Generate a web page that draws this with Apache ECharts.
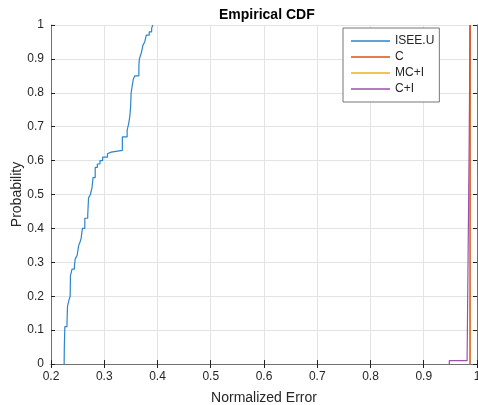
<!DOCTYPE html>
<html>
<head>
<meta charset="utf-8">
<script src="https://cdn.jsdelivr.net/npm/echarts@6/dist/echarts.min.js"></script>
<style>
  html, body { margin: 0; padding: 0; background: #fff; }
  #main { width: 478px; height: 405px; }
</style>
</head>
<body>
<div id="main"></div>
<script>
// ecdf steps: [x, F(x)]
var iseeU = [
  [0.2247, 0], [0.2250, 0.05], [0.2260, 0.11], [0.2300, 0.12], [0.2310, 0.17],
  [0.2340, 0.19], [0.2360, 0.20], [0.2365, 0.26], [0.2395, 0.28], [0.2440, 0.29],
  [0.2455, 0.31], [0.2490, 0.32], [0.2520, 0.35], [0.2545, 0.36], [0.2565, 0.37],
  [0.2590, 0.40], [0.2635, 0.43], [0.2690, 0.44], [0.2705, 0.49], [0.2740, 0.50],
  [0.2770, 0.52], [0.2790, 0.55], [0.2830, 0.58], [0.2870, 0.59], [0.2920, 0.60],
  [0.2970, 0.61], [0.3060, 0.62], [0.3090, 0.625], [0.3130, 0.63], [0.3340, 0.67],
  [0.3430, 0.69], [0.3460, 0.71], [0.3480, 0.73], [0.3495, 0.76], [0.3505, 0.80],
  [0.3525, 0.82], [0.3545, 0.84], [0.3575, 0.85], [0.3650, 0.88], [0.3660, 0.90],
  [0.3680, 0.91], [0.3700, 0.92], [0.3725, 0.94], [0.3760, 0.95], [0.3790, 0.97],
  [0.3845, 0.98], [0.3890, 0.99], [0.3910, 1.0]
];
var cOnly = [[0.9870, 0], [0.9872, 1]];
var mcI = [[0.9866, 0], [0.9868, 1]];
var cI = [[0.9480, 0], [0.9481, 0.01], [0.9815, 0.03], [0.9852, 0.63], [0.9870, 1]];

var seriesNames = ['ISEE.U', 'C', 'MC+I', 'C+I'];
var seriesColors = ['#2a85cc', '#d95319', '#edb120', '#9b4fae'];

var chart = echarts.init(document.getElementById('main'));
var font = 'Liberation Sans, Arial, sans-serif';
var axisCol = '#707070';
var textCol = '#262626';

function mkLine(name, data, z) {
  return {
    name: name,
    type: 'line',
    step: 'end',
    symbol: 'none',
    data: data,
    z: z,
    lineStyle: { width: 1.2 },
    animation: false
  };
}

function fmt(v) { return String(Math.round(v * 10) / 10); }

var option = {
  backgroundColor: '#fff',
  color: seriesColors,
  title: {
    text: 'Empirical CDF',
    left: 214,
    top: 3,
    textStyle: { fontFamily: font, fontSize: 14, fontWeight: 'bold', color: '#000' }
  },
  legend: {
    data: seriesNames,
    orient: 'vertical',
    left: 343,
    top: 28,
    icon: 'rect',
    itemWidth: 39,
    itemHeight: 1.5,
    itemGap: 2,
    padding: [6, 5, 6, 8],
    borderColor: '#777',
    borderWidth: 1,
    backgroundColor: '#fff',
    textStyle: { fontFamily: font, fontSize: 12, color: textCol, lineHeight: 14 }
  },
  grid: { left: 51, right: 1, top: 25, bottom: 41, outerBoundsMode: 'none', containLabel: false },
  xAxis: [{
    type: 'value',
    min: 0.2,
    max: 1,
    interval: 0.1,
    name: 'Normalized Error',
    nameLocation: 'middle',
    nameGap: 27,
    nameMoveOverlap: false,
    nameTextStyle: { fontFamily: font, fontSize: 14, color: textCol },
    axisLine: { lineStyle: { color: axisCol } },
    axisTick: { inside: true, length: 4, lineStyle: { color: '#222' } },
    axisLabel: { fontFamily: font, fontSize: 12, color: textCol, margin: 7, formatter: fmt },
    splitLine: { show: true, lineStyle: { color: '#e3e3e3' } }
  }, {
    type: 'value',
    position: 'top',
    min: 0.2,
    max: 1,
    interval: 0.1,
    axisLine: { show: true, lineStyle: { color: axisCol } },
    axisTick: { show: true, inside: true, length: 4, lineStyle: { color: '#222' } },
    axisLabel: { show: false },
    splitLine: { show: false }
  }],
  yAxis: [{
    type: 'value',
    min: 0,
    max: 1,
    interval: 0.1,
    name: 'Probability',
    nameLocation: 'middle',
    nameGap: 27,
    nameMoveOverlap: false,
    nameTextStyle: { fontFamily: font, fontSize: 14, color: textCol },
    axisLine: { show: true, lineStyle: { color: axisCol } },
    axisTick: { show: true, inside: true, length: 4, lineStyle: { color: '#222' } },
    axisLabel: { fontFamily: font, fontSize: 12, color: textCol, margin: 7, formatter: fmt },
    splitLine: { show: true, lineStyle: { color: '#e3e3e3' } }
  }, {
    type: 'value',
    position: 'right',
    min: 0,
    max: 1,
    interval: 0.1,
    axisLine: { show: true, lineStyle: { color: axisCol } },
    axisTick: { show: true, inside: true, length: 4, lineStyle: { color: '#222' } },
    axisLabel: { show: false },
    splitLine: { show: false }
  }],
  series: [
    mkLine(seriesNames[0], iseeU, 2),
    mkLine(seriesNames[1], cOnly, 5),
    mkLine(seriesNames[2], mcI, 3),
    mkLine(seriesNames[3], cI, 4)
  ]
};

chart.setOption(option);
</script>
</body>
</html>
